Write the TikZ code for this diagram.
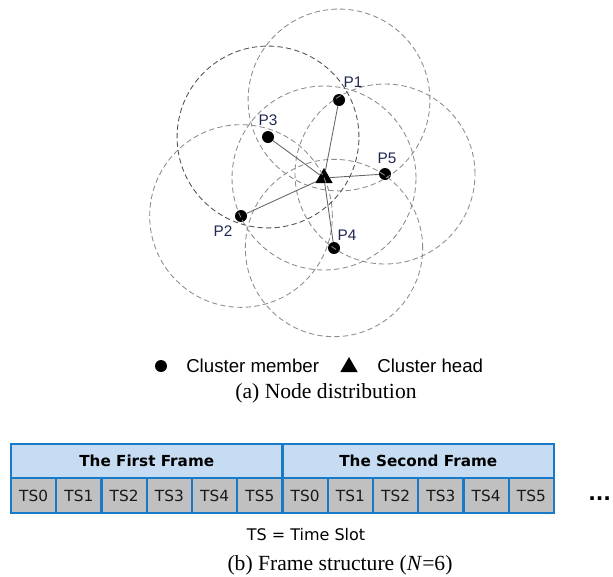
\documentclass[tikz,border=0pt]{standalone}
\usepackage{fontspec}
\setmainfont{Liberation Serif}
\newfontfamily\arialfont{Liberation Sans}
\newfontfamily\verdanafont{DejaVu Sans}
\usetikzlibrary{shapes.geometric}

% Színek
\definecolor{tsblue}{RGB}{24,122,200}
\definecolor{hdblue}{RGB}{198,220,242}
\definecolor{slotgray}{RGB}{192,192,192}
\definecolor{labelnavy}{RGB}{30,40,80}

\begin{document}
\begin{tikzpicture}[
    x=0.75pt, y=-0.75pt,
    % Lefedettségi körök
    reach/.style={dash pattern=on 4pt off 2.4pt, line width=0.65pt, black!45},
    reach dark/.style={reach, black!68},
    % Csomópontok
    member/.style={circle, fill=black, inner sep=0pt, minimum size=9pt},
    headmark/.style={regular polygon, regular polygon sides=3, fill=black, inner sep=0pt, minimum size=15pt},
    plabel/.style={font=\arialfont\fontsize{11.5}{13}\selectfont, text=labelnavy, inner sep=0pt},
    linkline/.style={black!60, line width=0.65pt},
    keytext/.style={font=\arialfont\fontsize{14}{16}\selectfont, anchor=west, inner sep=0pt},
    capnode/.style={font=\fontsize{16.2}{19}\selectfont, inner sep=0pt},
    % Keretszerkezet
    framebox/.style={draw=tsblue, line width=1.6pt, fill=hdblue, inner sep=0pt,
        minimum width=203.6pt, minimum height=25.5pt,
        font=\verdanafont\bfseries\fontsize{11.4}{13}\selectfont},
    slotbox/.style={draw=tsblue, line width=1.6pt, fill=slotgray, inner sep=0pt,
        minimum width=33.94pt, minimum height=26.25pt, text=black!90,
        font=\verdanafont\fontsize{11.5}{13}\selectfont}
]
    \useasboundingbox (0,0) rectangle (613,576);

    % Csomópontok elhelyezése
    \node[member] (p1) at (339,100) {};
    \node[member] (p2) at (241,216) {};
    \node[member] (p3) at (268,137) {};
    \node[member] (p4) at (334,248) {};
    \node[member] (p5) at (385,174) {};
    \node[headmark] (ch) at (324,178) {};

    % Lefedettségi körök a csomópontok körül
    \foreach \p/\r in {p1/68.2, p2/68.5, p4/66.5, p5/67.5, ch/69}
        \draw[reach] (\p.center) circle (\r pt);
    \draw[reach dark] (p3.center) circle (68.2pt);

    % Kapcsolatok a klaszterfőhöz
    \foreach \p in {p1,p2,p3,p4,p5}
        \draw[linkline] (\p) -- (ch);

    % Feliratok
    \node[plabel] (l1) at (353,82)  {P1};
    \node[plabel] (l2) at (223,231) {P2};
    \node[plabel] (l3) at (268,120) {P3};
    \node[plabel] (l4) at (347,235) {P4};
    \node[plabel] (l5) at (387,158) {P5};

    % Jelmagyarázat
    \node[member] (keym) at (161,366) {};
    \node[keytext] (keymt) at (186,366) {Cluster member};
    \node[headmark] (keyh) at (349,367) {};
    \node[keytext] (keyht) at (377,366) {Cluster head};
    \node[capnode] (capa) at (326,393) {(a) Node distribution};

    % Keretek és időrések
    \node[framebox] (fr1) at (146.75,461) {The First Frame};
    \node[framebox] (fr2) at (418.25,461) {The Second Frame};
    \foreach \i in {0,...,11} {
        \pgfmathtruncatemacro\k{mod(\i,6)}
        \node[slotbox] (ts\i) at ({11+45.25*(\i+0.5)},495.5) {TS\k};
    }
    \node[anchor=base west, inner sep=0pt, font=\verdanafont\bfseries\fontsize{15}{17}\selectfont]
        (more) at (588,500) {...};

    \node[font=\verdanafont\fontsize{12}{14}\selectfont, inner sep=0pt] (tsnote) at (306,535) {TS = Time Slot};
    \node[capnode] (capb) at (340,565) {(b) Frame structure (\textit{N}=6)};
\end{tikzpicture}
\end{document}
